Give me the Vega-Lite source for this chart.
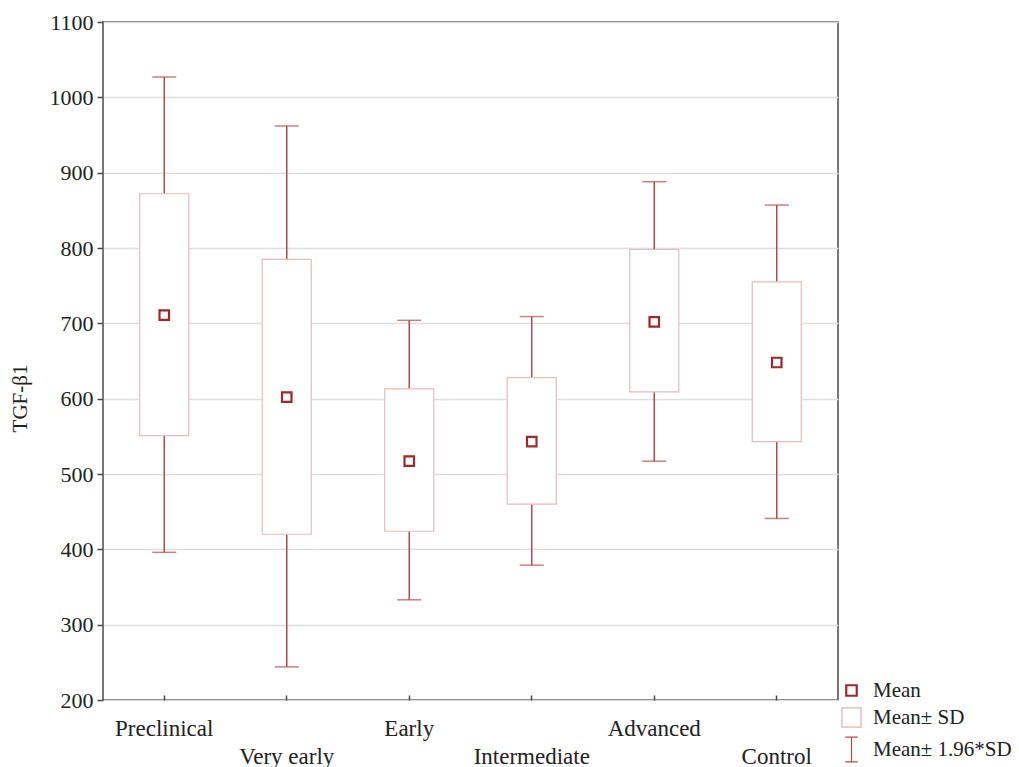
{
  "$schema": "https://vega.github.io/schema/vega-lite/v6.json",
  "width": 735,
  "height": 678,
  "padding": {"left": 103, "top": 22, "right": 181, "bottom": 67},
  "autosize": {"type": "none"},
  "background": "white",
  "config": {
    "view": {"stroke": "#4a4a4a", "strokeWidth": 1.5},
    "font": "Liberation Serif",
    "axis": {"labelFont": "Liberation Serif", "titleFont": "Liberation Serif", "labelColor": "#222", "titleColor": "#222", "domain": false, "tickColor": "#4a4a4a", "tickWidth": 1.5},
    "axisX": {"title": null, "labelAngle": 0, "labelFontSize": 23, "tickSize": -5, "labelPadding": 22, "labelLineHeight": 28, "labelOverlap": false, "grid": false},
    "axisY": {"titleFontSize": 21, "titleFontWeight": "normal", "titleX": -73, "titleY": 376, "labelFontSize": 22, "labelOverlap": false, "grid": true, "gridColor": "#dedede", "gridWidth": 1.5, "tickSize": 6, "labelPadding": 4},
    "legend": {"labelFont": "Liberation Serif", "labelFontSize": 21, "labelColor": "#222"}
  },
  "datasets": {
    "stats": [
      {"group": "Preclinical", "mean": 711, "sdLo": 551, "sdHi": 872, "ciLo": 396, "ciHi": 1027},
      {"group": "Very early", "mean": 602, "sdLo": 420, "sdHi": 785, "ciLo": 244, "ciHi": 962},
      {"group": "Early", "mean": 517, "sdLo": 424, "sdHi": 613, "ciLo": 333, "ciHi": 704},
      {"group": "Intermediate", "mean": 543, "sdLo": 460, "sdHi": 628, "ciLo": 379, "ciHi": 709},
      {"group": "Advanced", "mean": 702, "sdLo": 609, "sdHi": 798, "ciLo": 517, "ciHi": 888},
      {"group": "Control", "mean": 648, "sdLo": 543, "sdHi": 755, "ciLo": 441, "ciHi": 857}
    ],
    "legendItems": [
      {"kind": "Mean"},
      {"kind": "Mean± SD"},
      {"kind": "Mean± 1.96*SD"}
    ]
  },
  "encoding": {
    "x": {"field": "group", "type": "nominal", "sort": null,
      "scale": {"paddingInner": 0, "paddingOuter": 0},
      "axis": {"labelExpr": "indexof(['Very early','Intermediate','Control'], datum.value) >= 0 ? ['', datum.value] : datum.value"}}
  },
  "layer": [
    {
      "data": {"name": "stats"},
      "mark": {"type": "rule", "color": "#b8484b", "strokeWidth": 1.5},
      "encoding": {
        "y": {"field": "ciLo", "type": "quantitative",
          "scale": {"domain": [200, 1100], "nice": false, "zero": false},
          "axis": {"title": "TGF-β1", "format": "d", "values": [200,300,400,500,600,700,800,900,1000,1100]}},
        "y2": {"field": "ciHi"}
      }
    },
    {
      "data": {"name": "stats"},
      "mark": {"type": "tick", "orient": "horizontal", "color": "#b8484b", "thickness": 1.5, "size": 24},
      "encoding": {
        "y": {"field": "ciHi", "type": "quantitative", "axis": {"title": "TGF-β1", "format": "d", "values": [200,300,400,500,600,700,800,900,1000,1100]}}
      }
    },
    {
      "data": {"name": "stats"},
      "mark": {"type": "tick", "orient": "horizontal", "color": "#b8484b", "thickness": 1.5, "size": 24},
      "encoding": {
        "y": {"field": "ciLo", "type": "quantitative", "axis": {"title": "TGF-β1", "format": "d", "values": [200,300,400,500,600,700,800,900,1000,1100]}}
      }
    },
    {
      "data": {"name": "stats"},
      "mark": {"type": "bar", "fill": "white", "stroke": "#e6bcbc", "strokeWidth": 1.2, "size": 49},
      "encoding": {
        "y": {"field": "sdLo", "type": "quantitative", "axis": {"title": "TGF-β1", "format": "d", "values": [200,300,400,500,600,700,800,900,1000,1100]}},
        "y2": {"field": "sdHi"}
      }
    },
    {
      "data": {"name": "stats"},
      "mark": {"type": "point", "shape": "square", "filled": false, "stroke": "#a3262b", "strokeWidth": 2.2, "size": 90, "fill": "white", "opacity": 1},
      "encoding": {
        "y": {"field": "mean", "type": "quantitative", "axis": {"title": "TGF-β1", "format": "d", "values": [200,300,400,500,600,700,800,900,1000,1100]}}
      }
    },
    {
      "data": {"name": "legendItems"},
      "mark": {"type": "point", "filled": false, "opacity": 0},
      "encoding": {
        "x": {"value": 0},
        "y": {"value": 0},
        "shape": {"field": "kind", "type": "nominal",
          "scale": {"domain": ["Mean", "Mean± SD", "Mean± 1.96*SD"], "range": ["square", "square", "M-0.5,-1H0.5M0,-1V1M-0.5,1H0.5"]},
          "legend": {"title": null, "orient": "none", "legendX": 735, "legendY": 658, "rowPadding": 3, "symbolOpacity": 1, "labelOffset": 8, "symbolFillColor": "transparent",
            "encode": {"symbols": {"update": {"opacity": {"value": 1}}}}}},
        "stroke": {"field": "kind", "type": "nominal",
          "scale": {"domain": ["Mean", "Mean± SD", "Mean± 1.96*SD"], "range": ["#a3262b", "#ecc6c6", "#b8484b"]}},
        "size": {"field": "kind", "type": "nominal",
          "scale": {"domain": ["Mean", "Mean± SD", "Mean± 1.96*SD"], "range": [110, 620, 840]}},
        "strokeWidth": {"field": "kind", "type": "nominal",
          "scale": {"domain": ["Mean", "Mean± SD", "Mean± 1.96*SD"], "range": [2.2, 1.2, 1.5]}}
      }
    }
  ]
}
